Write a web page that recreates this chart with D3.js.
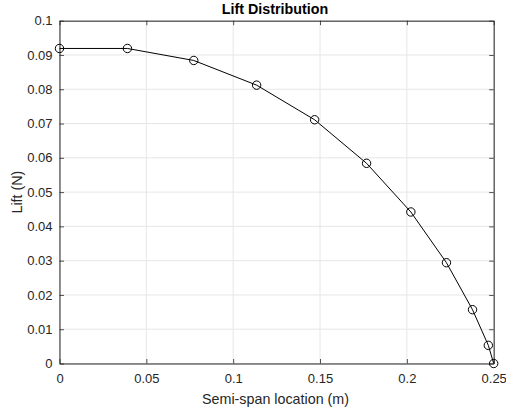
<!DOCTYPE html>
<html>
<head>
<meta charset="utf-8">
<script src="https://cdn.jsdelivr.net/npm/d3@7"></script>
<style>
  body { margin: 0; background: #fff; }
  text { font-family: "Liberation Sans", Arial, sans-serif; fill: #262626; }
</style>
</head>
<body>
<div class="chart"></div>
<script>
(function(){

  // semi-span stations (m) and lift (N)
  var spanPos = [0, 0.0391, 0.0773, 0.1135, 0.1469, 0.1768, 0.2023, 0.2228, 0.2378, 0.2469, 0.25];
  var liftVals = [0.0919, 0.0919, 0.0884, 0.0812, 0.0711, 0.0584, 0.0442, 0.0294, 0.0157, 0.0053, 0];

  var xTicks = [0, 0.05, 0.1, 0.15, 0.2, 0.25];
  var yTicks = [0, 0.01, 0.02, 0.03, 0.04, 0.05, 0.06, 0.07, 0.08, 0.09, 0.1];

  var width = 506, height = 411;
  var m = { left: 59.5, right: 12.3, top: 20.7, bottom: 47.5 };

  var svg = d3.select('.chart').append('svg')
    .attr('width', width)
    .attr('height', height);

  var x = d3.scaleLinear().domain([0, 0.25]).range([m.left, width - m.right]);
  var y = d3.scaleLinear().domain([0, 0.1]).range([height - m.bottom, m.top]);

  var tickLen = 4.5;

  // grid
  svg.append('g').selectAll('line.gx').data(xTicks).enter().append('line')
    .attr('x1', function(d){ return x(d); }).attr('x2', function(d){ return x(d); })
    .attr('y1', y(0)).attr('y2', y(0.1))
    .attr('stroke', '#e6e6e6').attr('stroke-width', 1);
  svg.append('g').selectAll('line.gy').data(yTicks).enter().append('line')
    .attr('y1', function(d){ return y(d); }).attr('y2', function(d){ return y(d); })
    .attr('x1', x(0)).attr('x2', x(0.25))
    .attr('stroke', '#e6e6e6').attr('stroke-width', 1);

  // axes, ticks pointing inward, MATLAB style box
  var fmt = function(d){ return d3.format('')(+d.toFixed(3)); };

  var xAxis = svg.append('g')
    .attr('transform', 'translate(0,' + y(0) + ')')
    .call(d3.axisBottom(x).tickValues(xTicks).tickSizeInner(-tickLen).tickSizeOuter(0).tickPadding(10.5).tickFormat(fmt));
  var yAxis = svg.append('g')
    .attr('transform', 'translate(' + x(0) + ',0)')
    .call(d3.axisLeft(y).tickValues(yTicks).tickSizeInner(-tickLen).tickSizeOuter(0).tickPadding(7).tickFormat(fmt));
  var xTop = svg.append('g')
    .attr('transform', 'translate(0,' + y(0.1) + ')')
    .call(d3.axisTop(x).tickValues(xTicks).tickSizeInner(-tickLen).tickSizeOuter(0).tickFormat(''));
  var yRight = svg.append('g')
    .attr('transform', 'translate(' + x(0.25) + ',0)')
    .call(d3.axisRight(y).tickValues(yTicks).tickSizeInner(-tickLen).tickSizeOuter(0).tickFormat(''));

  [xAxis, yAxis, xTop, yRight].forEach(function(g){
    g.select('.domain').attr('stroke', '#262626').attr('stroke-width', 1);
    g.selectAll('.tick line').attr('stroke', '#262626').attr('stroke-width', 0.8);
    g.selectAll('.tick text').attr('font-size', '13px').attr('fill', '#262626')
      .style('font-family', '"Liberation Sans", Arial, sans-serif');
  });

  // data line and markers
  var pts = spanPos.map(function(d, i){ return [d, liftVals[i]]; });
  var line = d3.line()
    .x(function(d){ return x(d[0]); })
    .y(function(d){ return y(d[1]); });

  svg.append('path')
    .datum(pts)
    .attr('d', line)
    .attr('fill', 'none')
    .attr('stroke', '#000')
    .attr('stroke-width', 1);

  svg.append('g').selectAll('circle').data(pts).enter().append('circle')
    .attr('cx', function(d){ return x(d[0]); })
    .attr('cy', function(d){ return y(d[1]); })
    .attr('r', 4.2)
    .attr('fill', 'none')
    .attr('stroke', '#000')
    .attr('stroke-width', 1);

  // labels
  svg.append('text')
    .attr('x', 275).attr('y', 14)
    .attr('text-anchor', 'middle')
    .attr('font-size', '14.3px').attr('font-weight', 'bold')
    .style('fill', '#000')
    .text('Lift Distribution');

  svg.append('text')
    .attr('x', 275.5).attr('y', 404)
    .attr('text-anchor', 'middle')
    .attr('font-size', '14.3px')
    .text('Semi-span location (m)');

  svg.append('text')
    .attr('transform', 'translate(21.5,' + ((y(0) + y(0.1)) / 2) + ') rotate(-90)')
    .attr('text-anchor', 'middle')
    .attr('font-size', '14.3px')
    .text('Lift (N)');

}());
</script>
</body>
</html>
